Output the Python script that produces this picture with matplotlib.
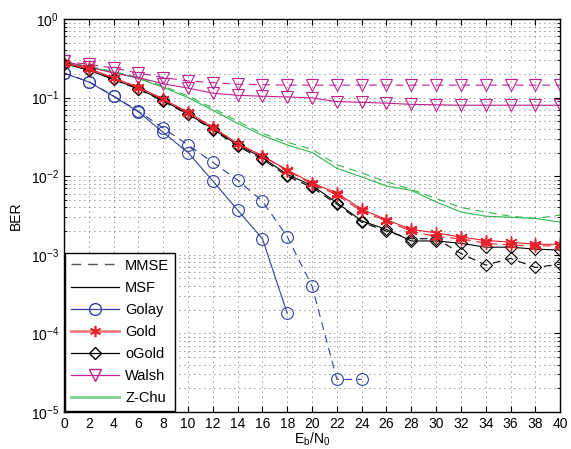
import matplotlib
matplotlib.use("Agg")
import matplotlib.pyplot as plt
from matplotlib.lines import Line2D
from matplotlib.ticker import LogLocator, NullFormatter, MultipleLocator

plt.rcParams['font.family'] = ['Liberation Sans', 'DejaVu Sans']
plt.rcParams['mathtext.default'] = 'regular'

x = list(range(0, 41, 2))

golay_msf = [0.205, 0.158, 0.104, 0.066, 0.036, 0.020, 0.0087, 0.0037, 0.0016, 0.00018]
golay_mmse = [0.205, 0.16, 0.105, 0.067, 0.041, 0.025, 0.015, 0.0089, 0.0048, 0.0017,
              0.00040, 2.6e-5, 2.6e-5]

gold_msf = [0.275, 0.235, 0.178, 0.136, 0.096, 0.065, 0.042, 0.026, 0.0182, 0.012, 0.0082,
            0.0061, 0.0038, 0.0028, 0.0021, 0.0019, 0.00168, 0.00152, 0.00145, 0.00136, 0.00136]
gold_mmse = [0.27, 0.23, 0.175, 0.134, 0.095, 0.064, 0.041, 0.026, 0.018, 0.0118, 0.0080,
             0.0058, 0.0036, 0.0027, 0.0020, 0.0017, 0.0016, 0.0014, 0.00133, 0.0013, 0.0013]

ogold_msf = [0.27, 0.225, 0.17, 0.13, 0.092, 0.062, 0.040, 0.025, 0.0172, 0.0105, 0.0076,
             0.0046, 0.0027, 0.0021, 0.0015, 0.0015, 0.0014, 0.00125, 0.00125, 0.00118, 0.00115]
ogold_mmse = [0.27, 0.225, 0.17, 0.128, 0.09, 0.061, 0.039, 0.024, 0.0165, 0.010, 0.0072,
              0.0044, 0.0026, 0.0020, 0.0016, 0.0016, 0.00104, 0.00074, 0.0009, 0.00069, 0.00076]

walsh_msf = [0.29, 0.245, 0.205, 0.18, 0.15, 0.132, 0.114, 0.107, 0.104, 0.102, 0.099,
             0.089, 0.087, 0.085, 0.082, 0.081, 0.080, 0.080, 0.080, 0.080, 0.080]
walsh_mmse = [0.29, 0.265, 0.238, 0.205, 0.18, 0.163, 0.155, 0.148, 0.146, 0.144, 0.144,
              0.144, 0.144, 0.144, 0.144, 0.144, 0.144, 0.144, 0.144, 0.144, 0.144]

zchu_msf = [0.275, 0.245, 0.21, 0.175, 0.135, 0.10, 0.069, 0.047, 0.033, 0.025, 0.020,
            0.0126, 0.0098, 0.0075, 0.0066, 0.0047, 0.0035, 0.0031, 0.0030, 0.0029, 0.0026]
zchu_mmse = [0.28, 0.25, 0.215, 0.18, 0.14, 0.105, 0.073, 0.05, 0.035, 0.027, 0.022,
             0.014, 0.011, 0.0085, 0.0068, 0.0052, 0.0040, 0.0035, 0.0031, 0.0029, 0.0032]

labels = ['MMSE', 'MSF', 'Golay', 'Gold', 'oGold', 'Walsh', 'Z-Chu']

BLUE = '#3040A0'
RED = '#E8202A'
MAG = '#C0208E'
GREEN = '#2DB84A'
DASH = (0, (7, 5))
AST = (6, 2, 0)
LW = 0.8

fig = plt.figure(figsize=(5.71, 4.49), dpi=100)
ax = fig.add_axes([0.112, 0.0824, 0.869, 0.8753])

ms_c = 8.5
ax.plot(x[:len(golay_mmse)], golay_mmse, ls=DASH, color=BLUE, lw=LW, marker='o', mfc='none', ms=ms_c, mew=0.8)
ax.plot(x[:len(golay_msf)], golay_msf, '-', color=BLUE, lw=LW, marker='o', mfc='none', ms=ms_c, mew=0.8)

ax.plot(x, zchu_mmse, ls=DASH, color=GREEN, lw=LW)
ax.plot(x, zchu_msf, '-', color=GREEN, lw=LW)

ax.plot(x, walsh_mmse, ls=DASH, color=MAG, lw=LW, marker='v', mfc='none', ms=9, mew=0.8)
ax.plot(x, walsh_msf, '-', color=MAG, lw=LW, marker='v', mfc='none', ms=9, mew=0.8)

ax.plot(x, ogold_mmse, ls=DASH, color='black', lw=LW, marker='D', mfc='none', ms=6.5, mew=0.8)
ax.plot(x, ogold_msf, '-', color='black', lw=LW, marker='D', mfc='none', ms=6.5, mew=0.8)

ax.plot(x, gold_mmse, ls=DASH, color=RED, lw=LW, marker=AST, ms=9, mew=1.0)
ax.plot(x, gold_msf, '-', color=RED, lw=LW, marker=AST, ms=9, mew=1.0)

ax.set_yscale('log')
ax.set_ylim(1e-5, 1)
ax.set_xlim(0, 40)
ax.xaxis.set_major_locator(MultipleLocator(2))
ax.yaxis.set_major_locator(LogLocator(base=10, numticks=10))
ax.yaxis.set_minor_locator(LogLocator(base=10, subs=range(2, 10), numticks=20))
ax.yaxis.set_minor_formatter(NullFormatter())

gstyle = dict(linestyle=(0, (1, 5)), color='#333333', lw=0.6)
ax.grid(True, which='major', axis='both', **gstyle)
ax.grid(True, which='minor', axis='y', **gstyle)
ax.tick_params(which='both', direction='in', top=True, right=True, labelsize=10)
ax.tick_params(which='major', length=4)
ax.tick_params(which='minor', length=2)
for s in ax.spines.values():
    s.set_linewidth(1.0)

ax.set_xlabel('E$_b$/N$_0$', fontsize=10, labelpad=0)
ax.set_ylabel('BER', fontsize=10, labelpad=6)

handles = [
    Line2D([], [], color='#555555', ls=DASH, lw=1.0),
    Line2D([], [], color='black', ls='-', lw=0.9),
    Line2D([], [], color=BLUE, ls='-', lw=0.9, marker='o', mfc='none', ms=ms_c),
    Line2D([], [], color='#F08080', ls='-', lw=2.0, marker=AST, mfc=RED, mec=RED, ms=8, mew=1.2),
    Line2D([], [], color='black', ls='-', lw=0.9, marker='D', mfc='none', ms=6.5),
    Line2D([], [], color=MAG, ls='-', lw=0.9, marker='v', mfc='none', ms=9),
    Line2D([], [], color='#7FD08F', ls='-', lw=2.0),
]
leg = ax.legend(handles, labels, loc='lower left', fontsize=10.5, frameon=True,
                fancybox=False, edgecolor='black', framealpha=1,
                handlelength=3.3, borderaxespad=0.1, labelspacing=0.55,
                handletextpad=0.4, borderpad=0.4)
leg.get_frame().set_linewidth(1.0)

fig.savefig('out.png', dpi=100)
